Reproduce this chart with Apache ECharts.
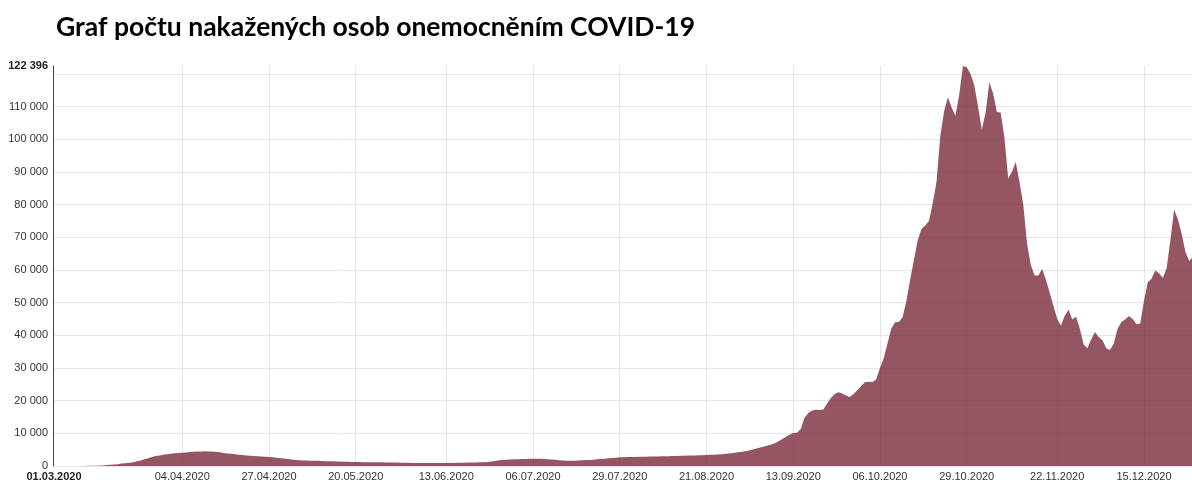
<!DOCTYPE html>
<html>
<head>
<meta charset="utf-8">
<script src="https://cdn.jsdelivr.net/npm/echarts@6/dist/echarts.min.js"></script>
<style>
  html, body { margin: 0; padding: 0; background: #fff; }
  #chart { width: 1192px; height: 482px; }
</style>
</head>
<body>
<div id="chart"></div>
<script>
// denní počty aktuálně nakažených, od 01.03.2020
const startDate = [2020, 3, 1]
const march = [3, 3, 5, 7, 12, 18, 26, 32, 38, 62, 92, 114, 139, 185, 290, 375, 440, 550, 750, 870,
  1000, 1170, 1430, 1700, 2050, 2380, 2750, 3050, 3250, 3420, 3600]
const april = [3760, 3880, 3990, 4070, 4150, 4250, 4340, 4420, 4470, 4490, 4470, 4400, 4300, 4170, 4000,
  3850, 3720, 3600, 3480, 3360, 3250, 3150, 3060, 2980, 2900, 2830, 2750, 2650, 2520, 2400]
const may = [2260, 2150, 2000, 1870, 1750, 1700, 1660, 1630, 1600, 1570, 1530, 1490, 1450, 1420, 1380,
  1340, 1310, 1280, 1250, 1220, 1200, 1180, 1170, 1160, 1150, 1140, 1120, 1100, 1080, 1060, 1040]
const june = [1020, 990, 960, 940, 920, 910, 900, 900, 910, 910, 920, 920, 930, 940, 950,
  960, 980, 1010, 1040, 1070, 1100, 1130, 1170, 1220, 1350, 1550, 1730, 1850, 1950, 2000]
const july = [2030, 2080, 2130, 2180, 2220, 2240, 2230, 2200, 2150, 2100, 2000, 1900, 1780, 1680, 1640,
  1630, 1640, 1680, 1740, 1800, 1850, 1950, 2060, 2150, 2240, 2350, 2460, 2560, 2650, 2700, 2730]
const august = [2760, 2780, 2810, 2840, 2860, 2880, 2900, 2930, 2950, 2980, 3000, 3030, 3070, 3110, 3150,
  3180, 3210, 3240, 3270, 3310, 3360, 3420, 3480, 3540, 3620, 3720, 3850, 3980, 4120, 4280, 4450]
const september = [4700, 4980, 5300, 5600, 5900, 6200, 6500, 6900, 7500, 8200, 8900, 9600, 10100, 10200, 11300,
  14800, 16200, 17000, 17200, 17100, 17300, 19100, 20800, 22000, 22600, 22200, 21600, 21100, 22000, 23200]
const october = [24500, 25600, 25800, 25700, 26500, 30000, 33000, 37500, 42000, 44000, 44100, 45500, 50500, 57000, 63000,
  69000, 72500, 73600, 75000, 80500, 87000, 101000, 108500, 112800, 109700, 107200, 113500, 122396, 122000, 120000, 116500]
const november = [110000, 103000, 108000, 117400, 114000, 108300, 108200, 100500, 88000, 90000, 93000, 87000, 80000, 68000, 61500,
  58300, 58300, 60300, 57000, 53000, 49000, 45000, 43000, 46000, 47800, 44800, 45700, 42000, 37200, 36000]
const december = [38700, 41000, 39500, 38500, 36000, 35500, 37500, 42000, 44100, 44800, 45900, 45000, 43400, 43600, 50500,
  56200, 57300, 59800, 59000, 57500, 60500, 69000, 78500, 75500, 71000, 65500, 62700, 64100]

const values = [].concat(march, april, may, june, july, august, september, october, november, december)

// popisky osy x (kromě prvního dne)
const tickLabels = ['04.04.2020', '27.04.2020', '20.05.2020', '13.06.2020', '06.07.2020', '29.07.2020',
  '21.08.2020', '13.09.2020', '06.10.2020', '29.10.2020', '22.11.2020', '15.12.2020']

const pad = n => (n < 10 ? '0' : '') + n
const dates = values.map((v, i) => {
  const d = new Date(startDate[0], startDate[1] - 1, startDate[2] + i, 12)
  return pad(d.getDate()) + '.' + pad(d.getMonth() + 1) + '.' + d.getFullYear()
})

const maxValue = Math.max(...values)
const fmt = v => String(v).replace(/\B(?=(\d{3})+(?!\d))/g, ' ')
const isTick = i => tickLabels.indexOf(dates[i]) !== -1

const chart = echarts.init(document.getElementById('chart'))

chart.setOption({
  animation: false,
  title: {
    text: 'Graf počtu nakažených osob onemocněním COVID-19',
    left: 51,
    top: 9,
    textStyle: { fontFamily: 'Lato', fontWeight: 'bold', fontSize: 26.5, color: '#000' }
  },
  grid: { left: 54, right: -1, top: 66, bottom: 16, outerBoundsMode: 'none' },
  xAxis: {
    type: 'category',
    data: dates,
    boundaryGap: false,
    axisLine: { show: false },
    axisTick: { show: false },
    axisLabel: {
      interval: (i) => i === 0 || isTick(i),
      margin: 5,
      fontFamily: 'Liberation Sans',
      fontSize: 11,
      color: '#333',
      formatter: (v, i) => (i === 0 ? '{b|' + v + '}' : v),
      rich: { b: { fontWeight: 'bold', fontSize: 11, color: '#222', fontFamily: 'Liberation Sans' } }
    },
    splitLine: {
      show: true,
      interval: (i) => isTick(i),
      lineStyle: { color: '#e4e4e4', width: 1 }
    }
  },
  yAxis: {
    type: 'value',
    min: 0,
    max: maxValue,
    interval: 10000,
    offset: 1,
    axisLine: { show: true, lineStyle: { color: '#444', width: 1 } },
    axisTick: { show: false },
    axisLabel: {
      margin: 5,
      showMaxLabel: true,
      fontFamily: 'Liberation Sans',
      fontSize: 11,
      color: '#333',
      formatter: (v) => {
        if (v === maxValue) return '{b|' + fmt(v) + '}'
        if (v > maxValue - 5000) return ''
        return fmt(v)
      },
      rich: { b: { fontWeight: 'bold', fontSize: 11, color: '#222', fontFamily: 'Liberation Sans' } }
    },
    splitLine: {
      show: true,
      showMaxLine: false,
      lineStyle: { color: '#e4e4e4', width: 1 }
    }
  },
  series: [{
    type: 'line',
    data: values,
    showSymbol: false,
    smooth: false,
    lineStyle: { width: 0 },
    areaStyle: { color: '#7a2a3c', opacity: 0.8 }
  }]
})
</script>
</body>
</html>
